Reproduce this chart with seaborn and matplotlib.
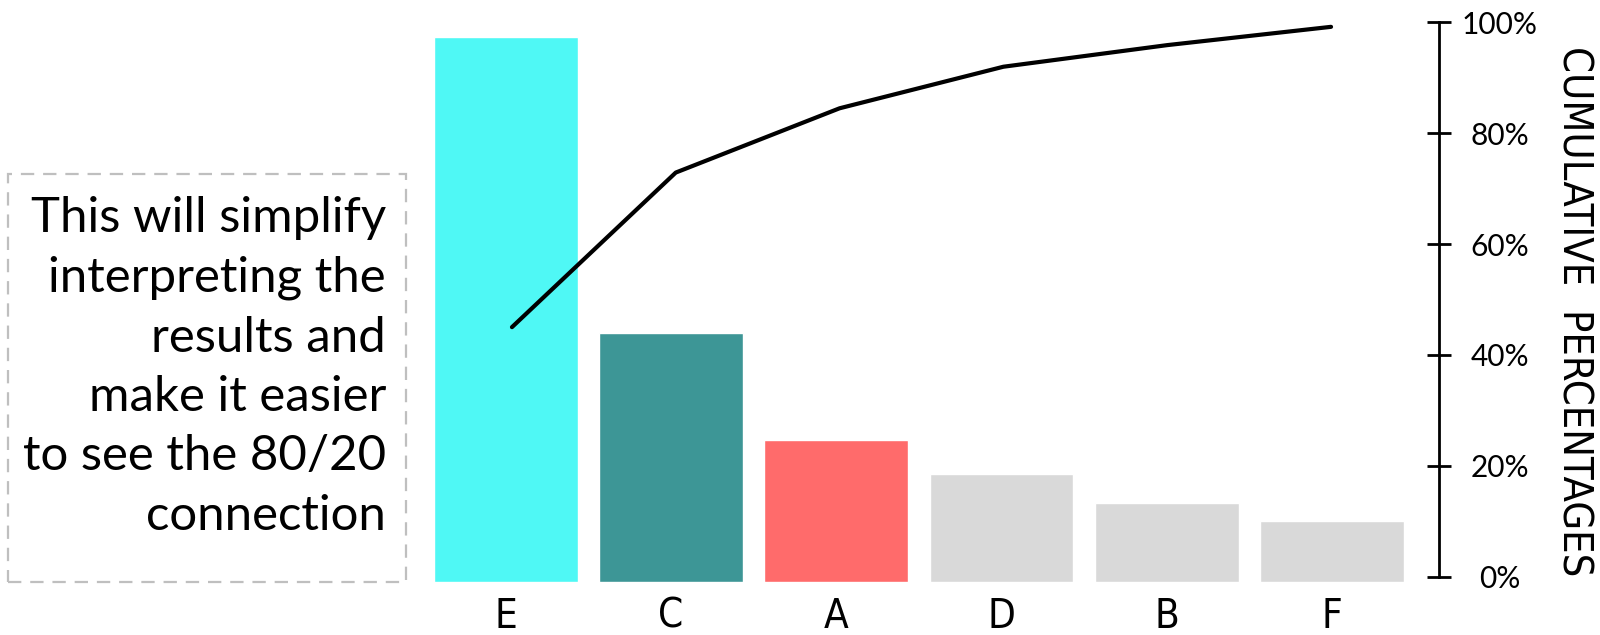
import matplotlib
matplotlib.use("Agg")
import matplotlib.pyplot as plt
from matplotlib.patches import Rectangle
import numpy as np
import pandas as pd
import seaborn as sns

# Pareto data: categories sorted by size, bar heights and cumulative share
categories = ["E", "C", "A", "D", "B", "F"]
bar_values = [97.4, 44.5, 25.4, 19.2, 14.1, 10.9]
cumulative_pct = [45.0, 72.9, 84.5, 92.0, 95.9, 99.2]
bar_colors = ["#4FF8F5", "#3D9696", "#FF6B6B", "#D9D9D9", "#D9D9D9", "#D9D9D9"]
pct_ticks = [0, 20, 40, 60, 80, 100]
pct_labels = ["0%", "20%", "40%", "60%", "80%", "100%"]
note_text = ("This will simplify\ninterpreting the\nresults and\n"
             "make it easier\nto see the 80/20\nconnection")
axis_title = "CUMULATIVE  PERCENTAGES"

sns.set_theme(style="white")
plt.rcParams["font.family"] = ["Lato", "DejaVu Sans"]
narrow = dict(family=["DejaVu Sans"], stretch="condensed")

W, H = 1600, 635
fig = plt.figure(figsize=(W / 100, H / 100), dpi=100)

# axes box in pixel terms
left_px, right_px = 423, 1439
bottom_px, top_px = 581.6, 22.4
box_rect = [left_px / W, (H - bottom_px) / H,
            (right_px - left_px) / W, (bottom_px - top_px) / H]
ax = fig.add_axes(box_rect)

df = pd.DataFrame({"category": categories, "value": bar_values})
sns.barplot(data=df, x="category", y="value", hue="category",
            palette=bar_colors, width=0.87, saturation=1, legend=False, ax=ax)
ax.set_xlim(-0.5, 5.647)
ax.set_ylim(0, 100)
for s in ax.spines.values():
    s.set_visible(False)
ax.set_xlabel("")
ax.set_ylabel("")
ax.set_yticks([])
ax.tick_params(axis="x", length=0, pad=11)
for lbl in ax.get_xticklabels():
    lbl.set_fontfamily(narrow["family"])
    lbl.set_fontstretch(narrow["stretch"])
    lbl.set_fontsize(29)
    lbl.set_color("black")

# cumulative percentage line on its own overlaid axes with the right-hand scale
ax2 = fig.add_axes(box_rect)
ax2.patch.set_visible(False)
line_df = pd.DataFrame({"pos": np.arange(len(categories)), "cum": cumulative_pct})
sns.lineplot(data=line_df, x="pos", y="cum", color="black", linewidth=3,
             ax=ax2, clip_on=False)
ax2.set_ylim(-0.92, 100)
ax2.set_xlim(-0.543, 5.659)
ax2.set_xticks([])
ax2.set_xlabel("")
ax2.set_ylabel("")
for side in ["left", "top", "bottom"]:
    ax2.spines[side].set_visible(False)
ax2.spines["right"].set_visible(True)
ax2.spines["right"].set_color("black")
ax2.spines["right"].set_linewidth(2)
ax2.spines["right"].set_bounds(0, 100)
ax2.yaxis.tick_right()
ax2.set_yticks(pct_ticks)
ax2.set_yticklabels(pct_labels)
ax2.tick_params(axis="y", which="major", right=True, left=False,
                labelright=True, labelleft=False,
                direction="inout", length=17.3, width=2, color="black",
                pad=35, labelsize=21.5, labelcolor="black")
for lbl in ax2.get_yticklabels():
    lbl.set_horizontalalignment("center")

# rotated axis title
fig.text(1574 / W, 1 - 311 / H, axis_title, rotation=270,
         ha="center", va="center", fontsize=29.8, color="black",
         family=narrow["family"], fontstretch=narrow["stretch"])

# dashed note box on the left
box = Rectangle((8.2 / W, 1 - 581.6 / H), (406 - 8.2) / W, (581.6 - 173.5) / H,
                transform=fig.transFigure, fill=False, edgecolor="#BFBFBF",
                linewidth=1.6, linestyle=(0, (6, 4)))
fig.add_artist(box)
fig.text(386 / W, 1 - 367 / H, note_text, ha="right", va="center",
         multialignment="right", fontsize=35.4, color="black",
         linespacing=1.43)

fig.savefig("out.png", dpi=100)
